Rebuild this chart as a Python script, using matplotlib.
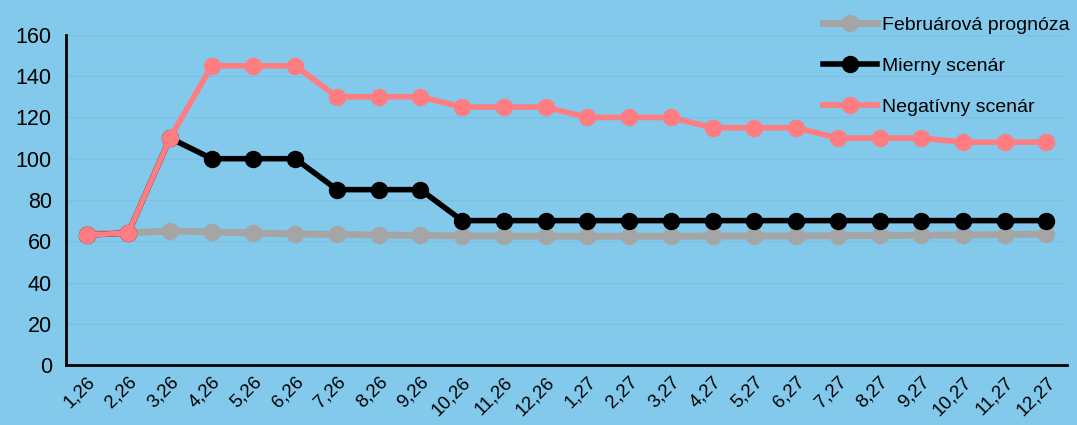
import numpy as np
import matplotlib.pyplot as plt

# months of the forecast
labels = ["1,26", "2,26", "3,26", "4,26", "5,26", "6,26", "7,26", "8,26", "9,26",
          "10,26", "11,26", "12,26", "1,27", "2,27", "3,27", "4,27", "5,27", "6,27",
          "7,27", "8,27", "9,27", "10,27", "11,27", "12,27"]

februarova = [63.5, 64, 65, 64.5, 64, 63.5, 63.3, 63, 62.8, 62.6, 62.5, 62.4,
              62.4, 62.4, 62.4, 62.5, 62.5, 62.6, 62.7, 62.8, 62.9, 63, 63.2, 63.5]
mierny = [63, 64, 110, 100, 100, 100, 85, 85, 85, 70, 70, 70,
          70, 70, 70, 70, 70, 70, 70, 70, 70, 70, 70, 70]
negativny = [63, 64, 110, 145, 145, 145, 130, 130, 130, 125, 125, 125,
             120, 120, 120, 115, 115, 115, 110, 110, 110, 108, 108, 108]

plt.rcParams['font.family'] = ['Liberation Sans', 'DejaVu Sans']

bg = "#82C9EB"
fig = plt.figure(figsize=(10.77, 4.25), dpi=100, facecolor=bg)
ax = fig.add_axes([0.061, 0.141, 0.93, 0.777])
ax.set_facecolor(bg)

x = np.arange(len(labels))
ax.plot(x, februarova, color="#A5A5A5", lw=5, marker="o", ms=11.5, label="Februárová prognóza", zorder=2)
ax.plot(x, mierny, color="black", lw=4, marker="o", ms=11.5, label="Mierny scenár", zorder=3)
ax.plot(x, negativny, color="#FF7C80", lw=4, marker="o", ms=11.5, label="Negatívny scenár", zorder=4)

ax.set_xlim(-0.5, len(labels) - 0.5)
ax.set_ylim(0, 160)
ax.set_yticks(range(0, 161, 20))
ax.set_xticks(x)
ax.set_xticklabels(labels, rotation=45, ha="right", rotation_mode="anchor", fontsize=13.5)
ax.tick_params(axis="y", labelsize=15.5, length=0, pad=10)
ax.tick_params(axis="x", length=0, pad=6)
ax.grid(axis="y", color="#7BC0E0", lw=0.8)
ax.set_axisbelow(True)

for s in ["top", "right"]:
    ax.spines[s].set_visible(False)
ax.spines["left"].set_linewidth(2)
ax.spines["bottom"].set_linewidth(2)

leg = ax.legend(loc="upper right", bbox_to_anchor=(1.02, 1.11), frameon=False,
                fontsize=14, handlelength=2.8, handletextpad=0.25, labelspacing=1.2)

fig.savefig("out.png", dpi=100, facecolor=bg)
